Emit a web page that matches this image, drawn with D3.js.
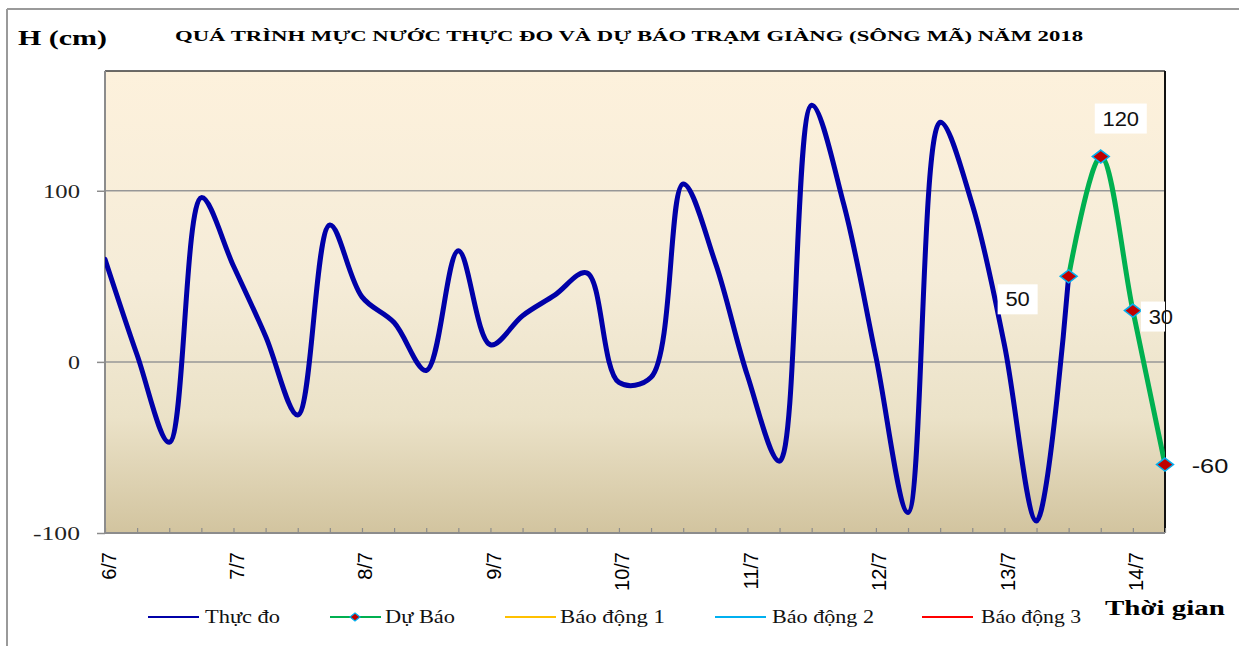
<!DOCTYPE html>
<html><head><meta charset="utf-8">
<script src="https://cdn.jsdelivr.net/npm/d3@7"></script>
<style>html,body{margin:0;padding:0;background:#fff;}svg{display:block;}</style>
</head><body>
<svg id="chart" width="1239" height="646"></svg>
<script>
// ---- data ----
const days = ["6/7","7/7","8/7","9/7","10/7","11/7","12/7","13/7","14/7"];
const hours = ["1h","7h","13h","19h"];
const observed = [60, 4, -47, 96, 56, 15, -31, 80, 38, 23, -5, 65, 10, 27, 39, 52, -12, -9, 104, 58, -8, -58, 150, 92, 3, -88, 140, 92, 10, -93, 50];
const forecast = [50, 120, 30, -60];
const forecastStart = 30;
const yTicks = [-100, 0, 100];
const legendNames = ["Thực đo", "Dự Báo", "Báo động 1", "Báo động 2", "Báo động 3"];
const legendColors = ["#0000A8", "#00B050", "#FFC000", "#00B0F0", "#FF0000"];

// categories: 4 per day, last day only 2
const categories = [];
days.forEach((d, di) => hours.forEach((h, hi) => {
  if (di < days.length - 1 || hi < 2) categories.push({day: d, hour: h, first: hi === 0});
}));

const svg = d3.select("#chart");
const L = 105, R = 1165, T = 71, B = 533;

const x = d3.scalePoint().domain(d3.range(categories.length)).range([L, R]);
const y = d3.scaleLinear().domain([-100, 170]).range([B, T]);

// outer frame
svg.append("line").attr("x1", 7).attr("x2", 1239).attr("y1", 9).attr("y2", 9).attr("stroke", "#9a9a9a").attr("stroke-width", 2);
svg.append("line").attr("x1", 7).attr("x2", 7).attr("y1", 9).attr("y2", 646).attr("stroke", "#9a9a9a").attr("stroke-width", 2);

// gradient background
const defs = svg.append("defs");
const grad = defs.append("linearGradient").attr("id", "bg").attr("x1", 0).attr("y1", 0).attr("x2", 0).attr("y2", 1);
[[0, "#fdf1dc"], [0.45, "#f5ecd8"], [0.75, "#ebe2c8"], [1, "#d2c49f"]].forEach(([o, c]) =>
  grad.append("stop").attr("offset", o).attr("stop-color", c));
defs.append("clipPath").attr("id", "plotclip").append("rect").attr("x", L).attr("y", T).attr("width", R - L).attr("height", B - T);

svg.append("rect").attr("x", L).attr("y", T).attr("width", R - L).attr("height", B - T).attr("fill", "url(#bg)");

// gridlines
svg.append("g").selectAll("line").data(yTicks.filter(v => v > -100)).join("line")
  .attr("x1", L).attr("x2", R).attr("y1", d => y(d)).attr("y2", d => y(d))
  .attr("stroke", "#979797").attr("stroke-width", 1.5);

// plot borders top/right
svg.append("line").attr("x1", L).attr("x2", R).attr("y1", T).attr("y2", T).attr("stroke", "#3a3a3a").attr("stroke-width", 1.5);
svg.append("line").attr("x1", R).attr("x2", R).attr("y1", T).attr("y2", B).attr("stroke", "#111").attr("stroke-width", 2);

// y axis
const yAxis = d3.axisLeft(y).tickValues(yTicks).tickSize(8).tickFormat(d => String(d));
const gy = svg.append("g").attr("transform", `translate(${L},0)`).call(yAxis);
gy.select(".domain").attr("stroke", "#8c8c8c").attr("stroke-width", 2).attr("d", `M0,${T}V${B}`);
gy.selectAll(".tick line").attr("stroke", "#8c8c8c").attr("stroke-width", 1.5);
gy.selectAll(".tick text").attr("x", -25).attr("dy", "0.35em")
  .attr("font-family", "Liberation Serif, Times New Roman, serif").attr("font-size", 18).attr("fill", "#222")
  .attr("textLength", d => d === 0 ? 12 : (d < 0 ? 47 : 37)).attr("lengthAdjust", "spacingAndGlyphs");

// x axis
const xAxis = d3.axisBottom(x).tickSize(-5).tickFormat(i => categories[i].first ? categories[i].day : "");
const gx = svg.append("g").attr("transform", `translate(0,${B})`).call(xAxis);
gx.select(".domain").attr("stroke", "#8c8c8c").attr("stroke-width", 2).attr("d", `M${L},0H${R}`);
gx.selectAll(".tick line").attr("stroke", "#8c8c8c").attr("stroke-width", 1.2);
gx.selectAll(".tick text")
  .attr("transform", "rotate(-90)")
  .attr("text-anchor", "end")
  .attr("x", -19).attr("y", 3).attr("dy", "0.35em")
  .attr("font-family", "Liberation Sans, Arial, sans-serif").attr("font-size", 20).attr("fill", "#000");

// lines
const line = d3.line().x(d => x(d.i)).y(d => y(d.v)).curve(d3.curveCatmullRom.alpha(0.5));
const obsData = observed.map((v, i) => ({i, v}));
const fcData = forecast.map((v, k) => ({i: forecastStart + k, v}));

const plot = svg.append("g").attr("clip-path", "url(#plotclip)");
plot.append("path").datum(fcData).attr("d", line).attr("fill", "none").attr("stroke", "#00B050").attr("stroke-width", 5).attr("stroke-linejoin", "round");
plot.append("path").datum(obsData).attr("d", line).attr("fill", "none").attr("stroke", "#0000A8").attr("stroke-width", 5).attr("stroke-linejoin", "round").attr("stroke-linecap", "round");

// markers
const diamond = (hw, hh) => `M0,${-hh}L${hw},0L0,${hh}L${-hw},0Z`;
svg.append("g").selectAll("path").data(fcData).join("path")
  .attr("transform", d => `translate(${x(d.i)},${y(d.v)})`)
  .attr("d", diamond(8.5, 6.5)).attr("fill", "#C00000").attr("stroke", "#00B0F0").attr("stroke-width", 1.5);

// data labels
const labelOffsets = [[-51, 23, true], [20, -38, true], [28, 6, true], [45, 1, false]];
const lblG = svg.append("g");
fcData.forEach((d, k) => {
  const [dx, dy, box] = labelOffsets[k];
  const cx = x(d.i) + dx, cy = y(d.v) + dy;
  const txt = String(d.v);
  const w = txt.length * 12 + 10;
  if (box) {
    const g = (cx + w / 2 > R) ? lblG.append("g").attr("clip-path", "url(#plotclip)") : lblG;
    g.append("rect").attr("x", cx - w / 2 - 3).attr("y", cy - 15).attr("width", w + 6).attr("height", 30).attr("fill", "#fff");
  }
  lblG.append("text").attr("x", cx).attr("y", cy).attr("dy", "0.35em").attr("text-anchor", "middle")
    .attr("font-family", "Liberation Sans, Arial, sans-serif").attr("font-size", 20).attr("fill", "#111")
    .attr("textLength", txt.length * 12.2).attr("lengthAdjust", "spacingAndGlyphs").text(txt);
});

// titles
svg.append("text").attr("x", 18).attr("y", 45).attr("font-family", "Liberation Serif, Times New Roman, serif")
  .attr("font-weight", "bold").attr("font-size", 22).attr("textLength", 89).attr("lengthAdjust", "spacingAndGlyphs").text("H (cm)");
svg.append("text").attr("x", 175).attr("y", 41).attr("font-family", "Liberation Serif, Times New Roman, serif")
  .attr("font-weight", "bold").attr("font-size", 15).attr("textLength", 908).attr("lengthAdjust", "spacingAndGlyphs")
  .text("QUÁ TRÌNH  MỰC  NƯỚC THỰC ĐO VÀ DỰ BÁO  TRẠM GIÀNG (SÔNG MÃ) NĂM 2018");
svg.append("text").attr("x", 1105).attr("y", 615).attr("font-family", "Liberation Serif, Times New Roman, serif")
  .attr("font-weight", "bold").attr("font-size", 22).attr("textLength", 120).attr("lengthAdjust", "spacingAndGlyphs").text("Thời gian");

// legend
const legX = [148, 330, 505, 715, 922];
const legTextX = [205, 385, 560, 772, 981];
const legTextW = [75, 70, 105, 102, 100];
const lg = svg.append("g");
legendNames.forEach((n, k) => {
  lg.append("line").attr("x1", legX[k]).attr("x2", legX[k] + 51).attr("y1", 617).attr("y2", 617)
    .attr("stroke", legendColors[k]).attr("stroke-width", 2);
  if (k === 1) lg.append("path").attr("transform", `translate(${legX[k] + 25},617)`).attr("d", diamond(5, 4))
    .attr("fill", "#C00000").attr("stroke", "#00B0F0").attr("stroke-width", 1.2);
  lg.append("text").attr("x", legTextX[k]).attr("y", 623).attr("font-family", "Liberation Serif, Times New Roman, serif")
    .attr("font-size", 19).attr("fill", "#111").attr("textLength", legTextW[k]).attr("lengthAdjust", "spacingAndGlyphs").text(n);
});
</script>
</body></html>
